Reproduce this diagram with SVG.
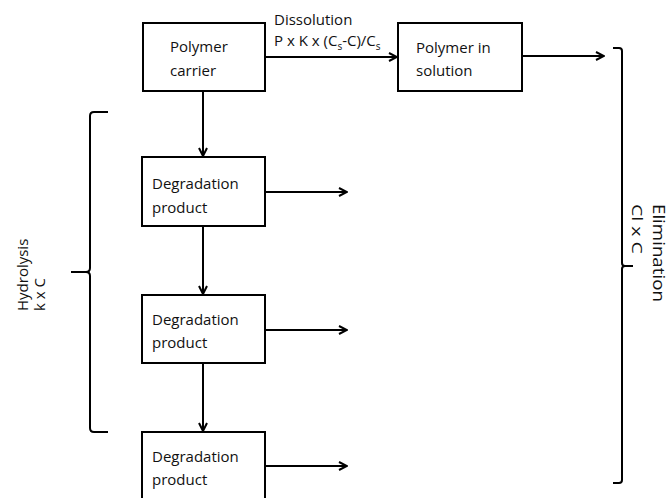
<svg xmlns="http://www.w3.org/2000/svg" width="670" height="498" viewBox="0 0 670 498">
<style>
  .box{fill:#fff;stroke:#000;stroke-width:2}
  .t{font-family:"Open Sans","Liberation Sans",sans-serif;font-size:15px;fill:#111}
  .ln{fill:none;stroke:#000;stroke-width:2}
  .br{fill:none;stroke:#000;stroke-width:2;stroke-linejoin:round}
</style>
<defs>
  <marker id="ah" viewBox="0 0 10 10" refX="9" refY="5" markerWidth="10" markerHeight="10" markerUnits="userSpaceOnUse" orient="auto">
    <path d="M1,1 L9,5 L1,9" fill="none" stroke="#000" stroke-width="2"/>
  </marker>
</defs>
<rect width="670" height="498" fill="#fff"/>
<g id="connectors">
  <line class="ln" x1="265" y1="57" x2="397" y2="57" marker-end="url(#ah)"/>
  <line class="ln" x1="522" y1="56" x2="604" y2="56" marker-end="url(#ah)"/>
  <line class="ln" x1="203" y1="91" x2="203" y2="156" marker-end="url(#ah)"/>
  <line class="ln" x1="203" y1="226" x2="203" y2="294" marker-end="url(#ah)"/>
  <line class="ln" x1="203" y1="363" x2="203" y2="431" marker-end="url(#ah)"/>
  <line class="ln" x1="265" y1="192" x2="347" y2="192" marker-end="url(#ah)"/>
  <line class="ln" x1="265" y1="330" x2="347" y2="330" marker-end="url(#ah)"/>
  <line class="ln" x1="265" y1="466" x2="347" y2="466" marker-end="url(#ah)"/>
  <text class="t" x="274" y="25">Dissolution</text>
  <text class="t" x="274" y="46">P x K x (C<tspan font-size="10" dy="4">s</tspan><tspan dy="-4">-C)/C</tspan><tspan font-size="10" dy="4">s</tspan></text>
</g>
<g id="polymer-carrier">
  <rect class="box" x="143" y="23" width="122" height="68"/>
  <text class="t" x="170" y="52">Polymer</text>
  <text class="t" x="170" y="76">carrier</text>
</g>
<g id="polymer-in-solution">
  <rect class="box" x="398" y="23" width="124" height="68"/>
  <text class="t" x="416" y="53">Polymer in</text>
  <text class="t" x="416" y="76">solution</text>
</g>
<g id="degradation-1">
  <rect class="box" x="142" y="157" width="123" height="69"/>
  <text class="t" x="152" y="189">Degradation</text>
  <text class="t" x="152" y="213">product</text>
</g>
<g id="degradation-2">
  <rect class="box" x="142" y="295" width="123" height="68"/>
  <text class="t" x="152" y="325">Degradation</text>
  <text class="t" x="152" y="348">product</text>
</g>
<g id="degradation-3">
  <rect class="box" x="142" y="432" width="123" height="70"/>
  <text class="t" x="152" y="462">Degradation</text>
  <text class="t" x="152" y="485">product</text>
</g>
<g id="hydrolysis">
  <path class="br" d="M108,112 L94,112 Q90,112 90,116 L90,268 Q90,272 86,272 L71,272 M86,272 Q90,272 90,276 L90,428 Q90,432 94,432 L108,432"/>
  <text class="t" transform="translate(28,311) rotate(-90)">Hydrolysis</text>
  <text class="t" transform="translate(45,311) rotate(-90)">k x C</text>
</g>
<g id="elimination">
  <path class="br" d="M613,48 L619,48 Q622,48 622,51 L622,263 Q622,266 625,266 L633,266 M625,266 Q622,266 622,269 L622,480 Q622,483 619,483 L613,483"/>
  <text class="t" style="font-size:16px" transform="translate(653,204) rotate(90) scale(1.17,1)">Elimination</text>
  <text class="t" transform="translate(632,204) rotate(90) scale(1.3,1)">Cl x C</text>
</g>
</svg>
